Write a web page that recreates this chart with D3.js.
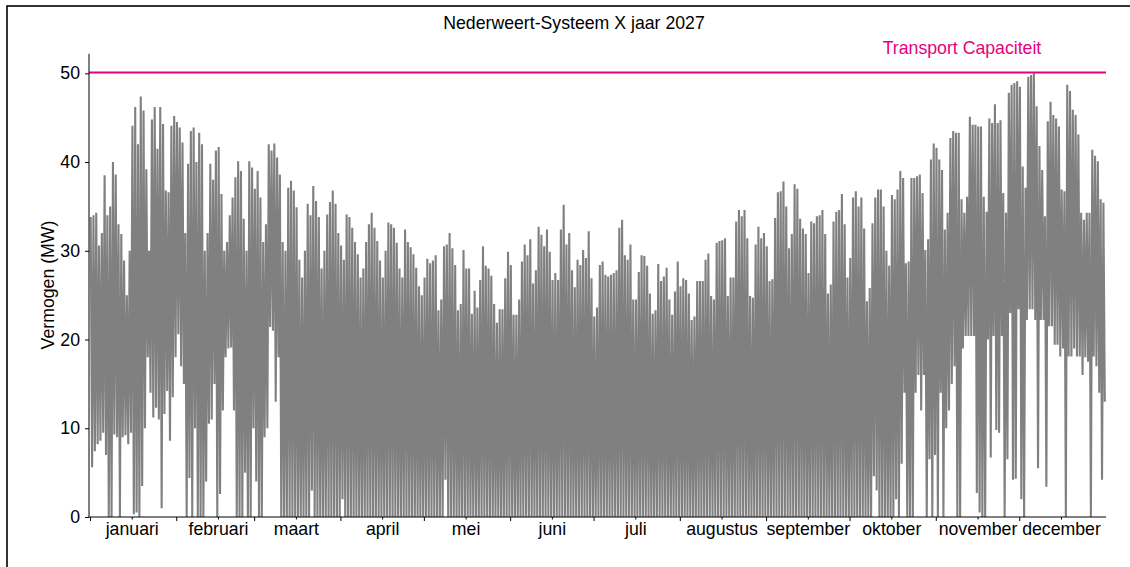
<!DOCTYPE html>
<html><head><meta charset="utf-8">
<script src="https://cdn.jsdelivr.net/npm/d3@7"></script>
<style>
body{margin:0;background:#fff;}
svg text{font-family:"Liberation Sans",Arial,sans-serif;}
</style></head>
<body>
<svg id="c" width="1130" height="567"></svg>
<script>
const title = "Nederweert-Systeem X jaar 2027";
const yLabel = "Vermogen (MW)";
const capacityLabel = "Transport Capaciteit";
const capacity = 50.1;
const months = ["januari","februari","maart","april","mei","juni","juli","augustus","september","oktober","november","december"];
const yTicks = [0,10,20,30,40,50];
const year = 2027;

// daily peak (MW)
const dailyMax = [
33.8,34.0,34.3,30.6,32.0,38.5,34.0,
35.0,40.0,38.6,33.0,31.9,28.9,25.0,
30.0,44.1,46.2,42.0,47.4,45.8,39.2,
30.0,44.8,46.2,41.5,46.2,44.3,36.8,
36.6,44.1,45.2,44.5,43.9,42.2,32.0,
39.8,43.5,43.9,40.0,43.3,42.0,30.0,
32.0,39.8,38.0,41.3,41.7,36.4,30.0,
31.0,34.0,36.0,38.3,40.1,39.0,33.6,
30.0,40.1,39.4,37.0,39.0,36.0,31.0,
33.0,42.0,41.3,42.1,40.5,38.6,31.0,
30.0,37.1,37.9,36.8,34.9,29.0,27.0,
30.0,35.3,34.0,37.3,35.6,33.8,28.0,
30.0,34.1,35.5,36.8,35.3,32.0,30.6,
29.0,34.1,33.8,32.6,31.0,29.6,27.0,
28.0,31.0,33.0,34.3,32.6,31.1,28.9,
27.0,30.0,33.2,33.0,32.6,30.9,28.0,
27.0,32.4,31.0,30.4,29.6,28.1,26.0,
25.0,27.0,29.1,28.6,28.9,29.5,23.3,
24.5,30.5,30.7,32.0,30.3,28.4,23.3,
24.0,30.1,28.0,28.0,22.9,25.5,23.6,
26.7,30.5,28.3,28.0,27.2,24.0,21.9,
23.4,23.4,26.9,29.9,28.4,22.8,22.8,
24.5,28.8,30.7,29.5,31.3,26.3,27.8,
32.7,31.8,30.5,32.4,29.9,26.7,27.5,
26.7,32.4,35.2,30.7,32.0,27.8,25.9,
29.0,28.4,30.1,29.2,32.2,26.9,22.6,
23.6,28.4,28.8,27.3,27.1,27.3,27.5,
27.8,32.6,33.5,29.5,29.0,30.7,24.5,
24.5,27.6,29.5,29.4,28.3,25.2,22.9,
23.3,28.5,26.6,27.1,28.1,24.5,22.8,
25.4,28.8,26.0,26.9,26.7,25.2,22.2,
22.6,26.6,26.6,26.6,29.0,29.7,24.9,
24.5,30.9,31.1,31.2,31.4,24.9,27.0,
27.0,33.3,34.6,33.9,34.6,31.4,24.9,
24.7,30.7,32.7,31.4,32.0,30.5,26.6,
26.8,33.7,36.6,36.7,37.8,35.0,30.3,
31.9,37.5,37.0,33.6,32.5,31.9,27.5,
33.3,33.1,33.9,34.0,34.6,31.9,25.2,
26.2,33.3,34.4,34.6,36.4,33.0,27.0,
29.2,36.0,36.7,35.0,36.0,32.5,24.3,
25.8,33.1,36.0,36.9,36.9,35.0,30.0,
28.3,36.3,35.8,36.9,39.0,38.2,28.6,
28.8,38.2,38.2,38.4,38.6,36.5,30.1,
31.3,40.3,42.1,41.6,40.3,39.1,32.4,
34.3,42.7,43.5,43.3,43.3,35.8,34.3,
36.1,45.1,44.2,44.2,44.0,44.0,36.1,
34.4,44.9,44.4,46.5,44.4,44.7,36.5,
34.3,47.8,48.7,48.9,49.1,48.5,39.5,
37.1,49.6,49.8,50.0,46.3,41.8,39.1,
33.9,44.6,46.8,45.3,44.9,44.0,36.9,
36.7,48.7,48.0,45.9,45.3,43.1,34.3,
33.5,34.3,34.3,41.4,40.7,40.1,35.8,
35.4
];

// daily minimum (MW)
const dailyMin = [
5.6,7.4,8.2,8.6,9.5,7.0,0.0,
0.0,9.3,9.0,0.0,9.0,9.2,8.2,
9.5,0.3,0.5,0.0,3.5,10.0,18.0,
14.0,11.2,12.3,11.0,1.0,11.6,14.2,
8.6,13.5,18.0,20.6,17.0,15.0,0.0,
4.4,0.0,10.0,0.0,0.0,0.0,4.0,
10.5,11.0,15.0,0.0,2.6,12.0,18.0,
19.0,19.1,12.0,0.0,0.0,0.0,5.0,
0.0,0.0,10.0,4.0,0.0,0.0,9.0,
10.0,21.4,21.0,13.0,18.0,0.0,0.0,
0,0,0,0,0,0,0,
0,0,3.0,0,0,0,0,
0,0,0,0,0,0,2.0,
0,0,0,0,0,0,0,
0,0,0,0,0,0,0,
0,0,0,0,0,0,0,
0,0,0,0,0,0,0,
0,0,0,0,0,0,0,
0,4.2,0,0,0,0,0,
0,0,0,0,0,0,0,
0,0,0,0,0,0,0,
0,0,0,0,0,0,0,
0,0,0,0,0,0,0,
0,0,0,0,0,0,0,
0,0,0,0,0,0,0,
0,0,0,0,0,0,0,
0,0,0,0,0,0,0,
0,0,0,0,0,0,0,
0,0,0,0,0,0,0,
0,0,0,0,0,0,0,
0,0,0,0,0,0,0,
0,0,0,0,0,0,0,
0,0,0,0,0,0,0,
0,0,0,0,0,0,0,
0,0,0,0,0,0,0,
0,0,0,0,0,0,0,
0,0,0,0,0,0,0,
0,0,0,0,0,0,0,
0,0,0,0,0,0,0,
0,0,0,0,0,0,0,
0,4.6,3.0,0,
0,0,0,0,0,2.0,0,
6.0,14.0,0,0,0,14.0,16.0,
12.0,16.0,0,6.5,0,7.0,0,
14.0,0,10.0,12.0,15.0,17.0,0,
0,19.0,20.4,20.4,20.4,20.4,2.7,
0.5,0,0,20.0,6.7,20.4,9.8,
9.5,20.4,0,6.5,23.0,4.2,4.3,
23.4,2.0,0,22.2,23.4,23.4,22.2,
5.5,22.2,22.2,3.4,21.5,21.5,19.4,
19.4,18.1,19.0,0,18.1,18.1,19.0,
18.1,18.1,16.0,18.0,17.5,0,18.1,
17.0,14.0,4.2,13.0
];

const svg = d3.select("#c");
const W = 1130, H = 567;
const FONT = "Liberation Sans, Arial, sans-serif";
const FS = 17.7;

// outer frame
svg.append("rect").attr("x",7).attr("y",6).attr("width",W+20).attr("height",H+20)
  .attr("fill","none").attr("stroke","#000").attr("stroke-width",1.6);

const t0 = new Date(Date.UTC(year,0,1)), t1 = new Date(Date.UTC(year+1,0,1));
const x = d3.scaleUtc().domain([t0,t1]).range([90,1105.5]);
const y = d3.scaleLinear().domain([0,52.2]).range([517,53.8]);

// build series: each day a peak and a trough
const DAY = 86400000;
const pts = [];
for (let d=0; d<dailyMax.length; d++){
  pts.push({t:new Date(t0.getTime()+ (d+0.25)*DAY), v:dailyMax[d]});
  pts.push({t:new Date(t0.getTime()+ (d+0.75)*DAY), v:dailyMin[d]});
}
const line = d3.line().x(p=>x(p.t)).y(p=>y(p.v));
svg.append("path").datum(pts).attr("d",line).attr("fill","none")
  .attr("stroke","#808080").attr("stroke-width",2.1).attr("stroke-linejoin","bevel");

// capacity line
svg.append("line").attr("x1",89).attr("x2",1106).attr("y1",y(capacity)).attr("y2",y(capacity))
  .attr("stroke","#e6007e").attr("stroke-width",2);
svg.append("text").attr("x",962).attr("y",y(capacity)-18.5).attr("text-anchor","middle")
  .attr("font-size",FS).attr("fill","#e6007e").text(capacityLabel);

// y axis
const ya = svg.append("g").attr("transform","translate(89,0)")
  .call(d3.axisLeft(y).tickValues(yTicks).tickSize(4).tickPadding(5).tickFormat(d3.format("d")));
ya.select(".domain").attr("d","M0,"+y(52.2)+"V"+y(0)).attr("stroke","#000").attr("stroke-width",1);
ya.selectAll("text").attr("font-size",FS).attr("fill","#000").style("font-family",FONT);

// x axis: month starts (major) and mid-month labels
const monthStarts = d3.range(12).map(m=>new Date(Date.UTC(year,m,1)));
const mids = d3.range(12).map(m=>new Date(Date.UTC(year,m,16)));
const xa = svg.append("g").attr("transform","translate(0,517)")
  .call(d3.axisBottom(x).tickValues(monthStarts).tickSize(4).tickFormat(""));
xa.select(".domain").attr("d","M89,0H1106").attr("stroke","#000");
const xm = svg.append("g").attr("transform","translate(0,517)")
  .call(d3.axisBottom(x).tickValues(mids).tickSize(2.5).tickPadding(3).tickFormat((d,i)=>months[i]));
xm.select(".domain").remove();
xm.selectAll("text").attr("font-size",FS).attr("fill","#000").style("font-family",FONT);

// title & y label
svg.append("text").attr("x",574).attr("y",29).attr("text-anchor","middle")
  .attr("font-size",FS).attr("fill","#000").text(title);
svg.append("text").attr("transform","translate(54,285) rotate(-90)").attr("text-anchor","middle")
  .attr("font-size",FS).attr("fill","#000").text(yLabel);
</script>
</body></html>
